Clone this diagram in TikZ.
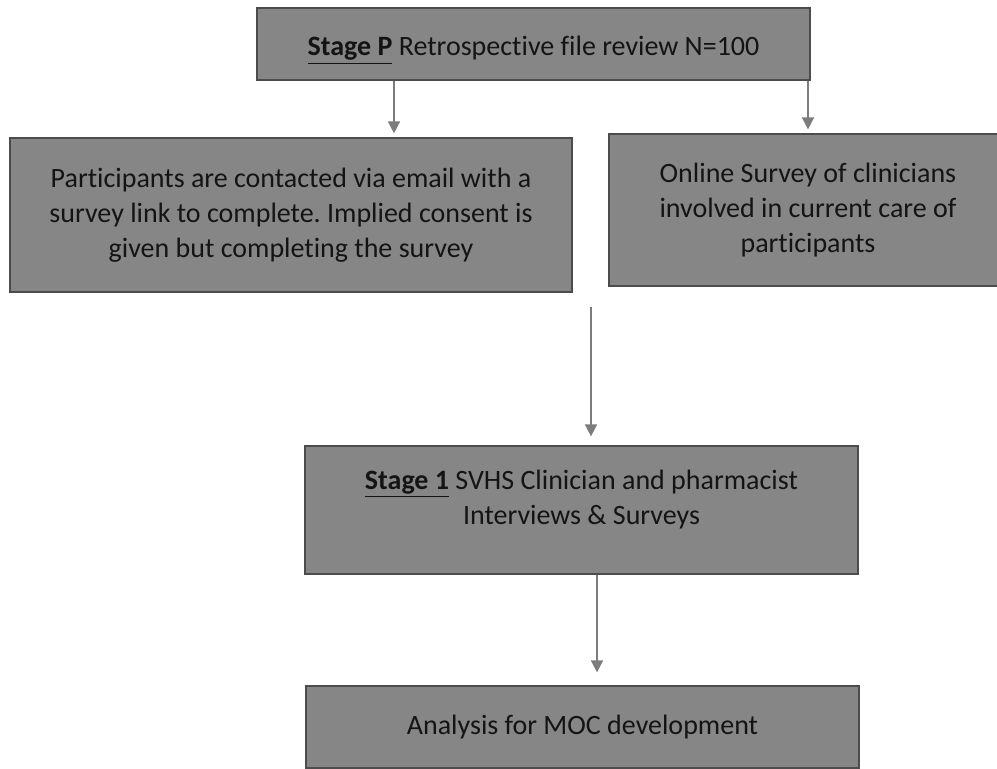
\documentclass[tikz,border=0pt]{standalone}
\usepackage{fontspec}
\setmainfont{Carlito}[Ligatures=NoCommon]
\usetikzlibrary{arrows.meta, positioning}
\definecolor{boxgray}{RGB}{134,134,134}
\definecolor{arrowgray}{RGB}{125,125,125}
\definecolor{inkgray}{RGB}{20,20,20}
\frenchspacing

\begin{document}
\begin{tikzpicture}[x=0.5pt, y=-0.5pt, font=\fontsize{14}{17.5}\selectfont,
  box/.style={draw=black!70, line width=0.6pt, fill=boxgray, text=inkgray, align=center, inner sep=0pt},
  arr/.style={draw=arrowgray, line width=0.8pt, -{Triangle[width=6pt,length=6pt]}, shorten >=2pt}]
\useasboundingbox (0,0) rectangle (997,769);
\node[box, minimum width=276.5pt, minimum height=36pt, text height=16pt] (stageP) at (533.5,44) {\underline{\textbf{Stage P}} Retrospective file review N=100};
\node[box, minimum width=281pt, minimum height=77pt] (contact) at (291,215) {Participants are contacted via email with a\\ survey link to complete. Implied consent is\\ given but completing the survey};
\node[box, minimum width=199pt, minimum height=76pt] (online) at (808,210) {Online Survey of clinicians\\ involved in current care of\\ participants};
\node[box, minimum width=276.5pt, minimum height=64pt, text depth=13pt] (stage1) at (581.5,510) {\underline{\textbf{Stage 1}} SVHS Clinician and pharmacist\\ Interviews \& Surveys};
\node[box, minimum width=276.5pt, minimum height=41pt] (moc) at (582.5,727) {Analysis for MOC development};
\coordinate (merge) at (591,307);
\draw[arr] (stageP.south -| 394,0) -- (contact.north -| 394,0);
\draw[arr] (stageP.south -| online.north) -- (online.north);
\draw[arr, shorten >=4.5pt] (merge) -- (stage1.north -| merge);
\draw[arr, shorten >=6.5pt] (stage1.south -| 597,0) -- (moc.north -| 597,0);
\end{tikzpicture}
\end{document}
